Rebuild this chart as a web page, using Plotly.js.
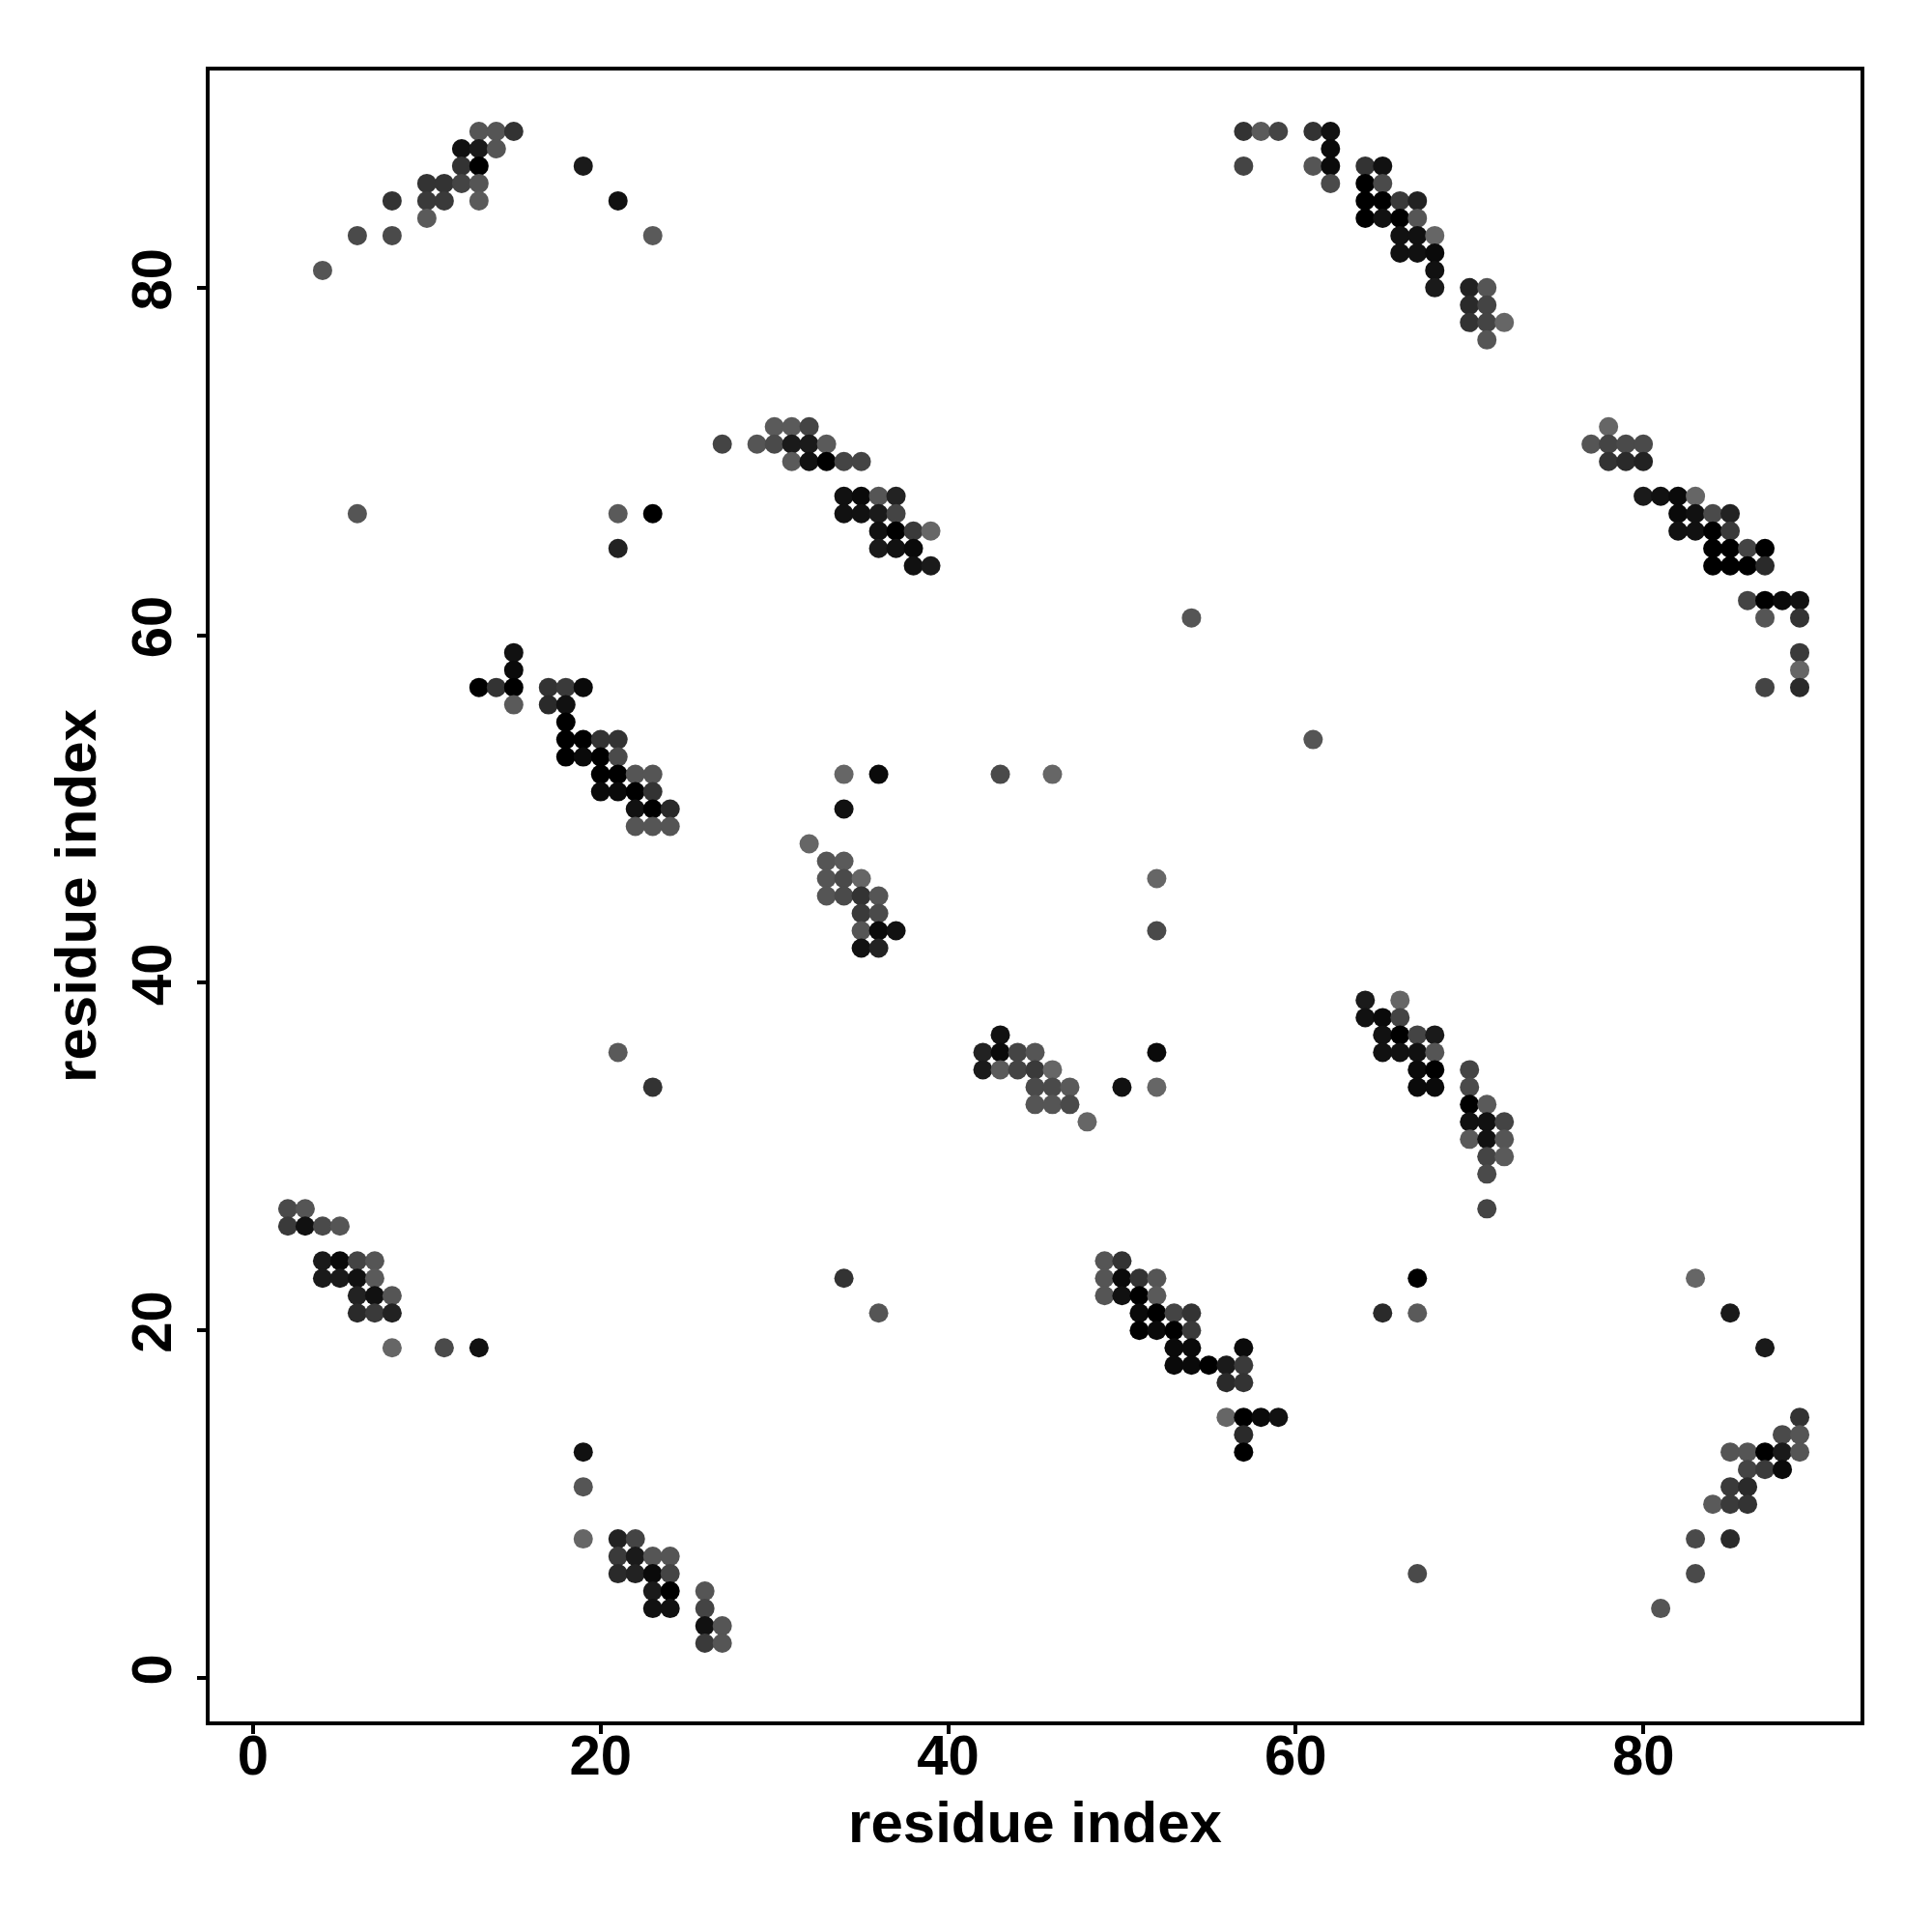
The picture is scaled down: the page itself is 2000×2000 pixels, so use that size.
<!DOCTYPE html>
<html>
<head>
<meta charset="utf-8">
<script src="https://cdn.plot.ly/plotly-3.0.1.min.js"></script>
<style>
  html, body { margin: 0; padding: 0; background: #ffffff; }
  #chart { width: 2000px; height: 2000px; }
</style>
</head>
<body>
<div id="chart"></div>
<script>
// Contact map: residue i (x), residue j (y), grey shade of each dot (0 = black, 0x66 = mid grey)

// upper-left cluster and scattered contacts
const grpA_x = [13,14,15, 12,13,14, 12,13,19, 10,11,12,13, 8,10,11,13,21, 10, 6,8,23, 4, 27, 6,21,23, 21];
const grpA_y = [89,89,89, 88,88,88, 87,87,87, 86,86,86,86, 85,85,85,85,85, 84, 83,83,83, 81, 71, 67,67,67, 65];
const grpA_g = [0x55,0x55,0x33, 0x11,0x1a,0x55, 0x33,0x00,0x1a, 0x33,0x33,0x44,0x55, 0x33,0x3a,0x3a,0x5a,0x11, 0x5a, 0x4a,0x4a,0x5a, 0x55, 0x44, 0x55,0x5a,0x00, 0x22];

// upper-middle
const grpB_x = [57,58,59, 57, 30,31,32, 29,30,31,32,33, 31,32,33,34,35, 34,35,36,37, 34,35,36,37, 36,37,38,39, 36,37,38, 38,39, 54];
const grpB_y = [89,89,89, 87, 72,72,72, 71,71,71,71,71, 70,70,70,70,70, 68,68,68,68, 67,67,67,67, 66,66,66,66, 65,65,65, 64,64, 61];
const grpB_g = [0x33,0x5a,0x44, 0x44, 0x5a,0x5a,0x44, 0x55,0x4a,0x1a,0x1a,0x5a, 0x5a,0x11,0x00,0x44,0x44, 0x11,0x0a,0x55,0x22, 0x11,0x11,0x1a,0x44, 0x11,0x00,0x3a,0x66, 0x1a,0x11,0x0a, 0x11,0x1a, 0x55];

// upper-right
const grpC_x = [61,62, 62, 61,62,64,65, 62,64,65, 64,65,66,67, 64,65,66,67, 66,67,68, 66,67,68, 68, 68,70,71, 70,71, 70,71,72, 71,
                78, 77,78,79,80, 78,79,80, 80,81,82,83, 82,83,84,85, 82,83,84,85, 84,85,86,87, 84,85,86,87, 86,87,88,89, 87,89];
const grpC_y = [89,89, 88, 87,87,87,87, 86,86,86, 85,85,85,85, 84,84,84,84, 83,83,83, 82,82,82, 81, 80,80,80, 79,79, 78,78,78, 77,
                72, 71,71,71,71, 70,70,70, 68,68,68,68, 67,67,67,67, 66,66,66,66, 65,65,65,65, 64,64,64,64, 62,62,62,62, 61,61];
const grpC_g = [0x33,0x11, 0x0a, 0x55,0x0a,0x33,0x11, 0x4a,0x00,0x4a, 0x00,0x00,0x3a,0x22, 0x00,0x11,0x00,0x55, 0x11,0x11,0x66, 0x11,0x11,0x0a, 0x11, 0x1a,0x22,0x55, 0x2a,0x44, 0x33,0x44,0x66, 0x55,
                0x66, 0x55,0x44,0x4a,0x4a, 0x33,0x2a,0x22, 0x1a,0x11,0x0a,0x66, 0x0a,0x11,0x4a,0x22, 0x11,0x11,0x00,0x3a, 0x00,0x00,0x44,0x00, 0x00,0x00,0x00,0x2a, 0x44,0x00,0x0a,0x11, 0x55,0x33];

// right-middle
const grpD_x = [89,89,87,89, 61, 64,66, 64,65,66, 65,66,67,68, 65,66,67,68, 67,68,70, 67,68,70, 70,71, 70,71,72, 70,71,72, 71,72, 71, 71];
const grpD_y = [59,58,57,57, 54, 39,39, 38,38,38, 37,37,37,37, 36,36,36,36, 35,35,35, 34,34,34, 33,33, 32,32,32, 31,31,31, 30,30, 29, 27];
const grpD_g = [0x3a,0x66,0x44,0x2a, 0x55, 0x1a,0x66, 0x11,0x0a,0x44, 0x11,0x00,0x44,0x1a, 0x11,0x11,0x11,0x55, 0x0a,0x00,0x44, 0x0a,0x0a,0x4a, 0x00,0x5a, 0x11,0x11,0x44, 0x5a,0x11,0x55, 0x44,0x5a, 0x4a, 0x44];

// left-middle
const grpE_x = [15,15, 13,14,15,17,18,19, 15,17,18, 18, 18,19,20,21, 18,19,20,21, 20,21,22,23, 20,21,22,23, 22,23,24, 22,23,24, 21, 23];
const grpE_y = [59,58, 57,57,57,57,57,57, 56,56,56, 55, 54,54,54,54, 53,53,53,53, 52,52,52,52, 51,51,51,51, 50,50,50, 49,49,49, 36, 34];
const grpE_g = [0x11,0x0a, 0x00,0x33,0x00,0x33,0x3a,0x0a, 0x5a,0x2a,0x11, 0x00, 0x00,0x00,0x33,0x33, 0x00,0x0a,0x00,0x4a, 0x00,0x00,0x55,0x55, 0x0a,0x0a,0x00,0x33, 0x11,0x00,0x2a, 0x55,0x55,0x55, 0x5a, 0x33];

// centre
const grpF_x = [34,36,43,46, 34, 32, 33,34, 33,34,35,52, 33,34,35,36, 35,36, 35,36,37,52, 35,36, 43, 42,43,44,45,52, 42,43,44,45,46, 45,46,47,50,52, 45,46,47, 48];
const grpF_y = [52,52,52,52, 50, 48, 47,47, 46,46,46,46, 45,45,45,45, 44,44, 43,43,43,43, 42,42, 37, 36,36,36,36,36, 35,35,35,35,35, 34,34,34,34,34, 33,33,33, 32];
const grpF_g = [0x66,0x0a,0x4a,0x66, 0x11, 0x66, 0x55,0x5a, 0x55,0x4a,0x66,0x66, 0x55,0x4a,0x33,0x55, 0x3a,0x4a, 0x55,0x0a,0x11,0x4a, 0x11,0x22, 0x11, 0x22,0x0a,0x44,0x55,0x0a, 0x1a,0x5a,0x44,0x3a,0x66, 0x4a,0x4a,0x5a,0x11,0x66, 0x55,0x55,0x4a, 0x66];

// lower-left
const grpG_x = [2,3, 2,3,4,5, 4,5,6,7, 4,5,6,7, 6,7,8, 6,7,8, 8,11,13, 19,19,19, 21,22, 21,22,23,24, 21,22,23,24, 23,24,26, 23,24,26, 26,27, 26,27];
const grpG_y = [27,27, 26,26,26,26, 24,24,24,24, 23,23,23,23, 22,22,22, 21,21,21, 19,19,19, 13,11,8, 8,8, 7,7,7,7, 6,6,6,6, 5,5,5, 4,4,4, 3,3, 2,2];
const grpG_g = [0x4a,0x55, 0x3a,0x11,0x4a,0x55, 0x1a,0x0a,0x44,0x55, 0x1a,0x1a,0x11,0x5a, 0x22,0x11,0x55, 0x2a,0x3a,0x22, 0x66,0x4a,0x11, 0x11,0x55,0x66, 0x22,0x44, 0x3a,0x1a,0x55,0x55, 0x2a,0x22,0x0a,0x44, 0x1a,0x00,0x55, 0x11,0x11,0x44, 0x11,0x55, 0x3a,0x55];

// lower-middle
const grpH_x = [34,36, 49,50, 49,50,51,52, 49,50,51,52, 51,52,53,54, 51,52,53,54, 53,54,57, 53,54,55,56,57, 56,57, 56,57,58,59, 57,57];
const grpH_y = [23,21, 24,24, 23,23,23,23, 22,22,22,22, 21,21,21,21, 20,20,20,20, 19,19,19, 18,18,18,18,18, 17,17, 15,15,15,15, 14,13];
const grpH_g = [0x33,0x55, 0x55,0x33, 0x55,0x0a,0x33,0x55, 0x55,0x11,0x00,0x5a, 0x0a,0x00,0x44,0x33, 0x00,0x0a,0x00,0x3a, 0x0a,0x0a,0x0a, 0x0a,0x0a,0x00,0x1a,0x3a, 0x2a,0x33, 0x66,0x00,0x0a,0x11, 0x2a,0x00];

// lower-right
const grpI_x = [67,83, 65,67,85, 87, 89, 88,89, 85,86,87,88,89, 86,87,88, 85,86, 84,85,86, 83,85, 67,83, 81];
const grpI_y = [23,23, 21,21,21, 19, 15, 14,14, 13,13,13,13,13, 12,12,12, 11,11, 10,10,10, 8,8, 6,6, 4];
const grpI_g = [0x00,0x66, 0x2a,0x5a,0x1a, 0x1a, 0x33, 0x4a,0x55, 0x55,0x55,0x00,0x1a,0x55, 0x44,0x3a,0x0a, 0x3a,0x2a, 0x5a,0x3a,0x33, 0x4a,0x2a, 0x4a,0x4a, 0x55];

const tickValues = [0, 20, 40, 60, 80];
const axisTitle = 'residue index';

const allX = [].concat(grpA_x, grpB_x, grpC_x, grpD_x, grpE_x, grpF_x, grpG_x, grpH_x, grpI_x);
const allY = [].concat(grpA_y, grpB_y, grpC_y, grpD_y, grpE_y, grpF_y, grpG_y, grpH_y, grpI_y);
const allG = [].concat(grpA_g, grpB_g, grpC_g, grpD_g, grpE_g, grpF_g, grpG_g, grpH_g, grpI_g);
const colors = allG.map(g => 'rgb(' + g + ',' + g + ',' + g + ')');

const FONT = 'Liberation Sans, Arial, Helvetica, sans-serif';

const trace = {
  type: 'scatter',
  mode: 'markers',
  x: allX,
  y: allY,
  marker: { size: 20, color: colors, line: { width: 0 } },
  hoverinfo: 'x+y',
  showlegend: false
};

const axisCommon = {
  range: [-2.5, 92.5],
  tickmode: 'array',
  tickvals: tickValues,
  ticktext: tickValues.map(String),
  ticks: 'outside',
  ticklen: 9,
  tickwidth: 4,
  tickcolor: '#000',
  showline: true,
  mirror: true,
  linewidth: 4,
  linecolor: '#000',
  showgrid: false,
  zeroline: false,
  tickfont: { family: FONT, size: 58, color: '#000', weight: 'bold' }
};

const layout = {
  width: 2000,
  height: 2000,
  paper_bgcolor: '#ffffff',
  plot_bgcolor: '#ffffff',
  margin: { l: 217, r: 74, t: 73, b: 218, pad: 0 },
  xaxis: Object.assign({}, axisCommon, {
    ticklabelstandoff: -28,
    title: { text: axisTitle, font: { family: FONT, size: 60, color: '#000', weight: 'bold' }, standoff: 18 }
  }),
  yaxis: Object.assign({}, axisCommon, {
    tickangle: -90,
    ticklabelstandoff: 4,
    title: { text: axisTitle, font: { family: FONT, size: 60, color: '#000', weight: 'bold' }, standoff: 6 }
  }),
  font: { family: FONT, color: '#000' }
};

Plotly.newPlot('chart', [trace], layout, { displayModeBar: false, staticPlot: true });
</script>
</body>
</html>
